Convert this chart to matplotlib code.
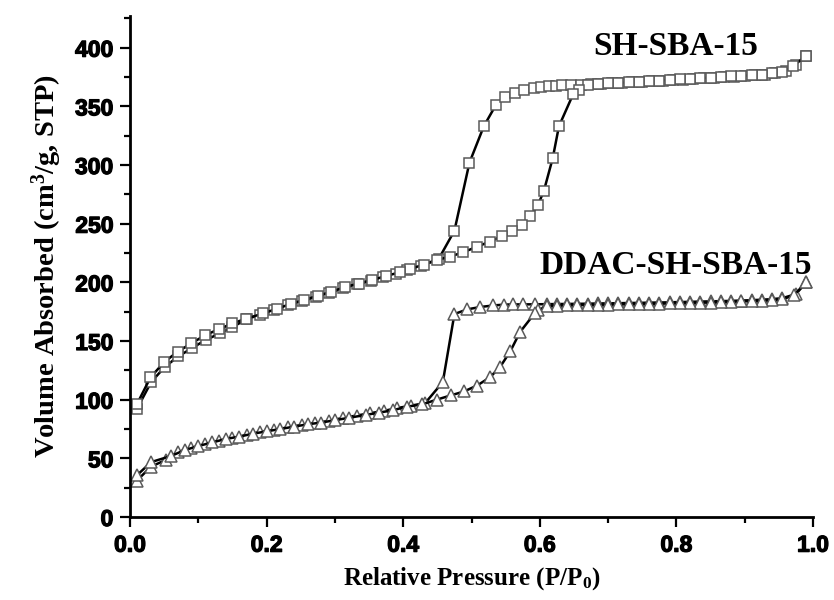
import matplotlib
matplotlib.use("Agg")
import matplotlib.pyplot as plt
import matplotlib.patheffects as pe
from matplotlib.ticker import MultipleLocator

plt.rcParams['mathtext.fontset'] = 'custom'
plt.rcParams['mathtext.rm'] = 'Liberation Serif:bold'
plt.rcParams['mathtext.bf'] = 'Liberation Serif:bold'
plt.rcParams['mathtext.it'] = 'Liberation Serif:bold'

# ---- SH-SBA-15 ----
sh_ads_x = [0.010, 0.031, 0.051, 0.071, 0.091, 0.111, 0.132, 0.150, 0.171, 0.190,
            0.211, 0.232, 0.252, 0.272, 0.292, 0.312, 0.332, 0.353, 0.371, 0.390,
            0.405, 0.426, 0.452, 0.475, 0.497, 0.518, 0.536, 0.549, 0.563, 0.577,
            0.591, 0.602, 0.613, 0.623, 0.633, 0.645, 0.660, 0.675, 0.690, 0.705,
            0.720, 0.735, 0.750, 0.765, 0.780, 0.795, 0.810, 0.825, 0.840, 0.855,
            0.870, 0.885, 0.900, 0.915, 0.930, 0.945, 0.960, 0.975, 0.990]
sh_ads_y = [92, 115, 128, 137, 144, 151, 156.5, 162, 168.5, 172.5,
            176.5, 180.5, 184, 187.5, 191, 195, 198.5, 201.5, 204.5, 207.5,
            210.5, 214, 220, 244, 302, 333, 351.5, 358, 361.5, 364,
            365.4, 366.3, 367, 367.5, 368, 368.3, 368.6, 369, 369.4, 369.8,
            370.2, 370.6, 371, 371.5, 372, 372.4, 372.8, 373.3, 373.8, 374.2,
            374.7, 375.2, 375.7, 376.3, 377, 378.5, 380.5, 385, 393]

sh_des_x = [0.990, 0.970, 0.955, 0.940, 0.925, 0.910, 0.895, 0.880, 0.865, 0.850,
            0.835, 0.820, 0.805, 0.790, 0.775, 0.760, 0.745, 0.730, 0.715, 0.700,
            0.685, 0.670, 0.657, 0.649, 0.628, 0.619, 0.606, 0.597, 0.586, 0.574,
            0.559, 0.545, 0.527, 0.508, 0.488, 0.469, 0.449, 0.430, 0.410, 0.395,
            0.375, 0.355, 0.335, 0.315, 0.295, 0.275, 0.255, 0.235, 0.215, 0.195,
            0.170, 0.150, 0.130, 0.110, 0.090, 0.070, 0.050, 0.030, 0.010]
sh_des_y = [393, 384, 379.5, 378, 377, 376.5, 376, 375.5, 375, 374.5,
            374, 373.5, 373, 372.5, 372, 371.5, 371, 370.5, 370, 369.5,
            369, 368, 364, 360.6, 333, 306, 278, 265.5, 256.4, 249,
            243.6, 239.4, 234.8, 230.3, 225.7, 222, 219, 215, 211.5, 208.5,
            205.5, 202, 199, 196, 192, 188.5, 185, 181.5, 177.5, 173.5,
            169, 165, 160, 155, 148, 141, 132, 119, 96]

# ---- DDAC-SH-SBA-15 ----
dd_ads_x = [0.010, 0.031, 0.052, 0.071, 0.090, 0.110, 0.131, 0.150, 0.171, 0.190,
            0.211, 0.231, 0.252, 0.271, 0.292, 0.312, 0.332, 0.352, 0.372, 0.391,
            0.412, 0.432, 0.458, 0.475, 0.494, 0.513, 0.532, 0.547, 0.561, 0.575,
            0.593, 0.610, 0.625, 0.640, 0.655, 0.670, 0.685, 0.700, 0.715, 0.730,
            0.745, 0.760, 0.775, 0.790, 0.805, 0.820, 0.835, 0.850, 0.865, 0.880,
            0.895, 0.910, 0.925, 0.940, 0.955, 0.975, 0.990]
dd_ads_y = [31, 43, 48.5, 55.5, 59, 62, 65, 67, 70, 72.5,
            74, 76.5, 78.5, 80, 82, 84.5, 86.5, 88.5, 90.5, 92.8,
            95, 97, 115, 173, 177, 179, 180.3, 181, 181.2, 181.2,
            181.3, 181.4, 181.5, 181.6, 181.7, 181.8, 182, 182.1, 182.2, 182.4,
            182.5, 182.7, 182.8, 183, 183.2, 183.4, 183.6, 183.8, 184, 184.2,
            184.5, 184.8, 185.2, 185.7, 186.5, 190, 200]

dd_des_x = [0.990, 0.972, 0.955, 0.940, 0.925, 0.910, 0.895, 0.880, 0.865, 0.850,
            0.835, 0.820, 0.805, 0.790, 0.775, 0.760, 0.745, 0.730, 0.715, 0.700,
            0.685, 0.670, 0.655, 0.640, 0.625, 0.610, 0.598, 0.593, 0.571, 0.557,
            0.542, 0.527, 0.508, 0.489, 0.470, 0.449, 0.428, 0.405, 0.385, 0.365,
            0.345, 0.320, 0.300, 0.280, 0.260, 0.240, 0.220, 0.200, 0.180, 0.160,
            0.140, 0.120, 0.100, 0.080, 0.060, 0.031, 0.010]
dd_des_y = [200, 189, 185.5, 184.8, 184.3, 184, 183.7, 183.4, 183.1, 182.8,
            182.6, 182.4, 182.2, 182, 181.8, 181.7, 181.5, 181.3, 181.2, 181,
            180.9, 180.7, 180.6, 180.4, 180.2, 179.8, 176, 174, 157.6, 141.4,
            128, 119, 112, 107, 103.7, 100, 96, 94, 91, 89,
            87, 84.5, 82.5, 80.5, 79, 77, 75, 73, 71, 68.5,
            66.5, 63.5, 60.5, 57, 52, 46.8, 35.5]

labels = ["SH-SBA-15", "DDAC-SH-SBA-15"]
x_ticks = [0.0, 0.2, 0.4, 0.6, 0.8, 1.0]
x_ticklabels = ["0.0", "0.2", "0.4", "0.6", "0.8", "1.0"]
y_ticks = [0, 50, 100, 150, 200, 250, 300, 350, 400]

fig = plt.figure(figsize=(8.34, 6.0), dpi=100)
ax = fig.add_axes([130 / 834, 1 - 517 / 600, 683 / 834, 501 / 600])

edge = '#5a5a5a'
sq = dict(color='black', lw=1.8, marker='s', ms=6.5, mfc='white', mec=edge, mew=1.1)
tri = dict(color='black', lw=1.8, marker='^', ms=8.2, mfc='white', mec=edge, mew=1.1)

ax.plot(sh_ads_x, sh_ads_y, **sq)
ax.plot(sh_des_x, sh_des_y, **sq)
ax.plot(dd_ads_x, dd_ads_y, **tri)
ax.plot(dd_des_x, dd_des_y, **tri)

ax.set_xlim(0, 1.0)
ax.set_ylim(0, 427)
ax.spines['top'].set_visible(False)
ax.spines['right'].set_visible(False)
for s in ('left', 'bottom'):
    ax.spines[s].set_linewidth(2.0)

ax.set_xticks(x_ticks)
ax.set_xticklabels(x_ticklabels)
ax.set_yticks(y_ticks)
ax.xaxis.set_minor_locator(MultipleLocator(0.1))
ax.yaxis.set_minor_locator(MultipleLocator(25))
ax.tick_params(which='major', direction='out', length=7, width=1.6, pad=5)
ax.tick_params(which='minor', direction='out', length=4, width=1.6)
heavy = [pe.withStroke(linewidth=0.9, foreground='black')]
for lab in ax.get_xticklabels() + ax.get_yticklabels():
    lab.set_family('Liberation Sans')
    lab.set_fontweight('bold')
    lab.set_fontsize(16.5)
    lab.set_path_effects(heavy)

ax.set_xlabel(r'Relative Pressure (P/P$_{0}$)', family='Liberation Serif',
              fontweight='bold', fontsize=18, labelpad=6)
ax.set_ylabel(r'Volume Absorbed (cm$^{3}$/g, STP)', family='Liberation Serif',
              fontweight='bold', fontsize=20.5, labelpad=8)

ax.text(0.920, 393.5, labels[0], ha='right', va='baseline', family='Liberation Serif',
        fontweight='bold', fontsize=24)
ax.text(0.999, 207.5, labels[1], ha='right', va='baseline', family='Liberation Serif',
        fontweight='bold', fontsize=24)

fig.savefig('out.png', dpi=100)
